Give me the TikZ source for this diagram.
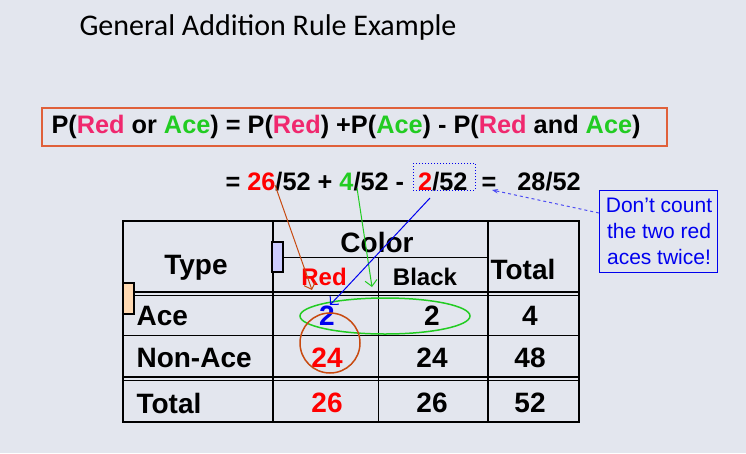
\documentclass[tikz,border=0pt]{standalone}
\usepackage{fontspec}
\setmainfont{Liberation Sans}
\newfontfamily\titlefont{Carlito}
\usetikzlibrary{arrows.meta}
\definecolor{bg}{HTML}{E3E6EE}
\definecolor{rd}{HTML}{FF0000}
\definecolor{pk}{HTML}{F0286E}
\definecolor{gr}{HTML}{22CC22}
\definecolor{br}{HTML}{C84A10}
\definecolor{bl}{HTML}{0000EE}
\definecolor{boxor}{HTML}{E0603A}
\tikzset{
  tb/.style={font=\bfseries\fontsize{28}{28}\selectfont},
  tbs/.style={font=\bfseries\fontsize{24}{24}\selectfont},
  fm/.style={font=\bfseries\fontsize{25.3}{26}\selectfont},
  grid/.style={line width=2pt},
  thin/.style={line width=1pt},
}
\begin{document}
\begin{tikzpicture}[x=1pt,y=-1pt]
\fill[bg] (0,0) rectangle (746,453);
\useasboundingbox (0,0) rectangle (746,453);
\node[anchor=west,font=\titlefont\fontsize{30}{30}\selectfont] (title) at (76,27) {General Addition Rule Example};
% formula box
\draw[boxor,line width=1.2pt] (42,108) rectangle (667,146);
\node[fm,anchor=west] (f1) at (48,127) {P(\textcolor{pk}{Red} or \textcolor{gr}{Ace}) = P(\textcolor{pk}{Red}) +P(\textcolor{gr}{Ace}) - P(\textcolor{pk}{Red} and \textcolor{gr}{Ace})};
\node[fm,anchor=west] (f2) at (222,182) {= \textcolor{rd}{26}/52 + \textcolor{gr}{4}/52 -\ \ \textcolor{rd}{2}/52 \ =\ \ \ 28/52};
\draw[bl,dotted,line width=1pt] (413,163) rectangle (475,190);
\coordinate (dotbox) at (492,190);
% callout
\draw[bl,line width=1pt] (599,190) rectangle (717,272);
\node[font=\fontsize{21}{26}\selectfont,text=bl,align=center] (call) at (659,231) {Don't count\\the two red\\aces twice!};
% table lines
\draw[grid] (123,221) rectangle (579,422);
\draw[grid] (273,221) -- (273,422);
\draw[grid] (488,221) -- (488,422);
\draw[thin] (378,257) -- (378,422);
\draw[thin] (273,257) -- (488,257);
\draw[grid] (123,292) -- (579,292);
\draw[thin] (123,295) -- (579,295);
\draw[thin] (123,335) -- (579,335);
\draw[grid] (123,377) -- (579,377);
\draw[thin] (123,380) -- (579,380);
% small rectangles
\draw[fill=blue!20,line width=1.2pt] (272,242) rectangle (283,272);
\draw[fill=orange!30,line width=1.2pt] (123,283) rectangle (134,314);
% table text
\node[tb] (type) at (196,268) {Type};
\node[tb] (color) at (377,242) {Color};
\node[tbs,text=rd] (red) at (324,277) {Red};
\node[tbs] (black) at (425,277) {Black};
\node[tb] (total) at (523,269) {Total};
\node[tb,anchor=west] (ace) at (133,316) {Ace};
\node[tb,anchor=west] (nonace) at (133,358) {Non-Ace};
\node[tb,anchor=west] (tot) at (133,403) {Total};
\node[tb,text=bl] (a1) at (327,316) {2};
\node[tb] (a2) at (432,316) {2};
\node[tb] (a3) at (530,316) {4};
\node[tb,text=rd] (n1) at (327,358) {24};
\node[tb] (n2) at (432,358) {24};
\node[tb] (n3) at (530,358) {48};
\node[tb,text=rd] (t1) at (327,403) {26};
\node[tb] (t2) at (432,403) {26};
\node[tb] (t3) at (530,403) {52};
% ellipses
\draw[gr,line width=1.5pt] (385,316) ellipse (85 and 18);
\draw[br,line width=1.5pt] (330,343) ellipse (30 and 30);
% arrows
\coordinate (s26) at (275,185); \coordinate (e26) at (312,290);
\coordinate (s4) at (357,188); \coordinate (e4) at (372,287);
\coordinate (s2) at (430,198); \coordinate (e2) at (330,305);
\draw[br,thin,-{Straight Barb[length=6pt]}] (s26) -- (e26);
\draw[gr,thin,-{Straight Barb[length=6pt]}] (s4) -- (e4);
\draw[bl,thin,-{Straight Barb[length=6pt]}] (s2) -- (e2);
\draw[bl!70,dashed,thin,-{Stealth[length=6pt]}] (599,213) -- (dotbox);
\end{tikzpicture}
\end{document}
